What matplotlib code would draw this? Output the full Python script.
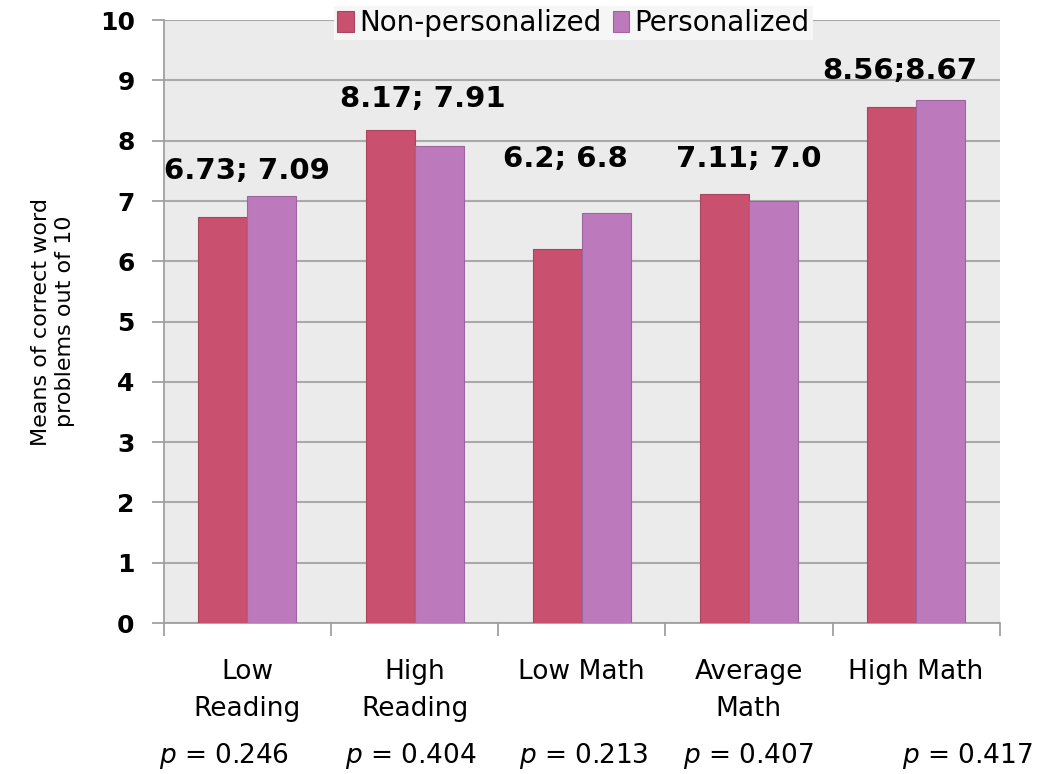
import matplotlib.pyplot as plt
import numpy as np

categories = ["Low\nReading", "High\nReading", "Low Math", "Average\nMath", "High Math"]
non_personalized = [6.73, 8.17, 6.2, 7.11, 8.56]
personalized = [7.09, 7.91, 6.8, 7.0, 8.67]
value_labels = ["6.73; 7.09", "8.17; 7.91", "6.2; 6.8", "7.11; 7.0", "8.56;8.67"]
p_values = ["0.246", "0.404", "0.213", "0.407", "0.417"]

# label placement (layout only)
label_y = [7.5, 8.7, 7.7, 7.7, 9.15]
label_shift = [0.0, 0.05, -0.1, 0.0, -0.1]
p_shift = [-0.14, -0.02, 0.01, 0.0, 0.31]

c_non = '#c9506f'
c_per = '#bc7abd'

fig = plt.figure(figsize=(10.37, 7.74), dpi=100)
ax = fig.add_axes([0.158, 0.195, 0.806, 0.779])
ax.set_facecolor('#ebebeb')

x = np.arange(len(categories))
w = 0.293
ax.bar(x - w/2, non_personalized, w, color=c_non, edgecolor='#a84560', linewidth=0.8,
       label='Non-personalized', zorder=3)
ax.bar(x + w/2, personalized, w, color=c_per, edgecolor='#9c65a0', linewidth=0.8,
       label='Personalized', zorder=3)

for i, txt in enumerate(value_labels):
    ax.text(x[i] + label_shift[i], label_y[i], txt, ha='center', va='center', fontsize=21,
            fontweight='bold', zorder=4)

ax.set_xlim(-0.5, len(categories) - 0.5)
ax.set_ylim(0, 10)
ax.set_yticks(range(0, 11))
ax.yaxis.grid(True, color='#a9a9a9', linewidth=1.5, zorder=0)
ax.set_axisbelow(True)

# category boundary ticks
ax.set_xticks(np.arange(-0.5, len(categories)))
ax.set_xticklabels([])
ax.tick_params(axis='x', length=9, width=1.3, color='#a0a0a0')
ax.tick_params(axis='y', length=9, width=1.3, color='#a0a0a0', labelsize=18, pad=12)
for lab in ax.get_yticklabels():
    lab.set_fontweight('bold')

for i, c in enumerate(categories):
    ax.text(x[i], -0.6, c, ha='center', va='top', fontsize=19, linespacing=1.55)
    ax.text(x[i] + p_shift[i], -1.95, '$p$ = ' + p_values[i], ha='center', va='top',
            fontsize=19)

for s in ['top', 'right']:
    ax.spines[s].set_visible(False)
ax.spines['left'].set_color('#a0a0a0')
ax.spines['bottom'].set_color('#a0a0a0')
ax.spines['left'].set_linewidth(1.3)
ax.spines['bottom'].set_linewidth(1.3)

ax.set_ylabel("Means of correct word\nproblems out of 10", fontsize=16, labelpad=18,
              linespacing=1.2)

leg = ax.legend(loc='center', bbox_to_anchor=(0.49, 0.995), ncol=2, fontsize=20,
                frameon=True, handlelength=0.6, handleheight=0.8, handletextpad=0.2,
                columnspacing=0.4, borderpad=0.1, fancybox=False)
leg.get_frame().set_facecolor('#f6f6f6')
leg.get_frame().set_edgecolor('none')
leg.get_frame().set_alpha(1)

fig.savefig('out.png', dpi=100)
